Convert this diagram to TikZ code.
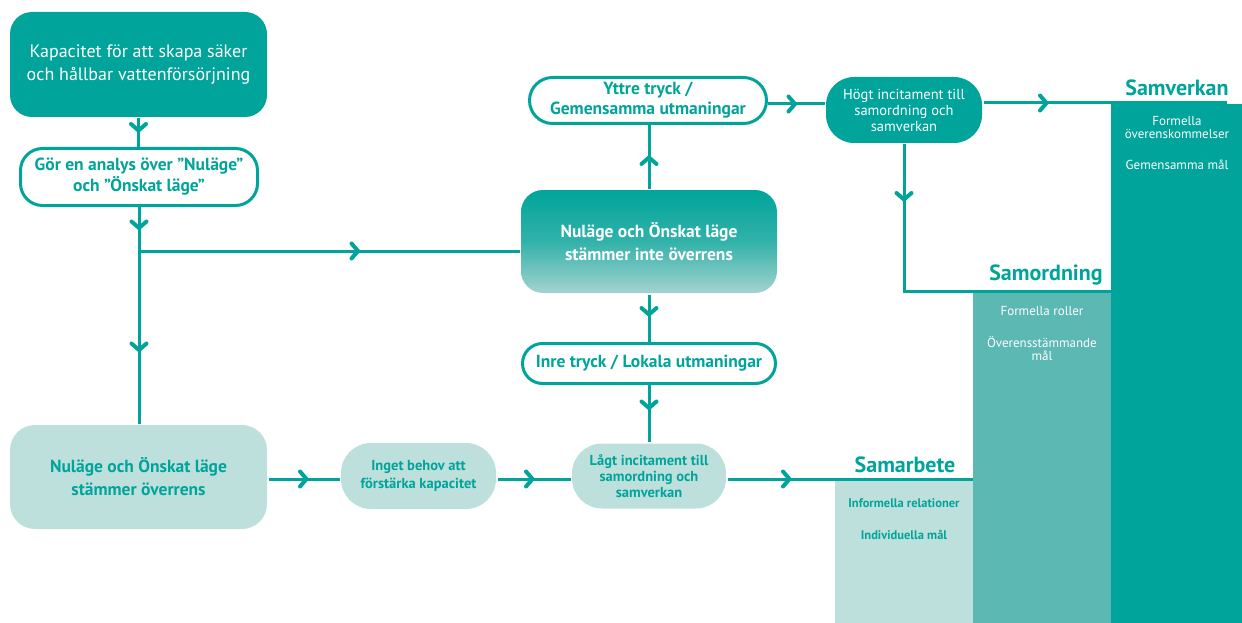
\documentclass[tikz,border=0pt]{standalone}
\usepackage{fontspec}
\setmainfont{PT Sans}
\usetikzlibrary{arrows.meta,decorations.markings,calc}
\definecolor{teal1}{HTML}{00A49A}
\definecolor{teal2}{HTML}{5CB8B2}
\definecolor{teal3}{HTML}{BEE0DD}
\definecolor{teal4}{HTML}{A5D3CF}
\tikzset{
  box/.style={rounded corners=#1, align=center, inner sep=0pt, line width=3pt},
  darkbox/.style={box=#1, fill=teal1, text=white},
  openbox/.style={box=#1, draw=teal1, fill=white, text=teal1},
  lightbox/.style={box=#1, fill=teal3, text=teal1},
  conn/.style={draw=teal1, line width=3pt},
  tipat/.style={postaction={decorate,decoration={markings,
      mark=at position #1pt with {\arrow{Straight Barb[length=6.5pt,width=15pt,line width=4pt,round]}}}}},
  heading/.style={text=teal1, font=\fontsize{22}{24}\selectfont\bfseries, inner sep=0pt},
  coltext/.style={align=center, inner sep=0pt, font=\fontsize{13}{13}\selectfont},
}
\begin{document}
\begin{tikzpicture}[x=1pt,y=-1pt]
\useasboundingbox (0,0) rectangle (1242,623);
% columns
\fill[teal3] (835,480) rectangle (973,623);
\fill[teal2] (973,292) rectangle (1111,623);
\fill[teal1] (1111,104) rectangle (1242,623);
\node[heading] (hsv) at (1177,88) {Samverkan};
\node[heading] (hso) at (1046,275) {Samordning};
\node[heading] (hsa) at (905,465) {Samarbete};
\node[coltext, text=white] (sv1) at (1177,127.5) {Formella\\överenskommelser};
\node[coltext, text=white] (sv2) at (1177,165) {Gemensamma mål};
\node[coltext, text=white] (so1) at (1042,311) {Formella roller};
\node[coltext, text=white] (so2) at (1042,348.5) {Överensstämmande\\mål};
\node[coltext, text=teal1, font=\fontsize{12.5}{13}\selectfont\bfseries] (sa1) at (904,503) {Informella relationer};
\node[coltext, text=teal1, font=\fontsize{12.5}{13}\selectfont\bfseries] (sa2) at (904,535) {Individuella mål};
% boxes
\node[darkbox=22, minimum width=257, minimum height=105, font=\fontsize{18}{23}\selectfont] (kap) at (138.5,64.5) {Kapacitet för att skapa säker\\och hållbar vattenförsörjning};
\node[openbox=22, minimum width=237, minimum height=57, font=\fontsize{17.5}{21}\selectfont\bfseries] (gor) at (139,177) {Gör en analys över ”Nuläge”\\och ”Önskat läge”};
\node[box=22, minimum width=256, minimum height=103, top color=teal1, bottom color=teal4, middle color=teal1!70!teal4, text=white, font=\fontsize{17.5}{23}\selectfont\bfseries] (inte) at (649,241.5) {Nuläge och Önskat läge\\stämmer inte överrens};
\node[openbox=23, minimum width=237, minimum height=46, font=\fontsize{17.5}{20}\selectfont\bfseries] (ytt) at (648,100.5) {Yttre tryck /\\Gemensamma utmaningar};
\node[darkbox=28, minimum width=156, minimum height=66, font=\fontsize{14.5}{16}\selectfont] (hog) at (904,110) {Högt incitament till\\samordning och\\samverkan};
\node[openbox=20, minimum width=253, minimum height=40, font=\fontsize{17.5}{20}\selectfont\bfseries] (inre) at (649,363.5) {Inre tryck / Lokala utmaningar};
\node[lightbox=30, minimum width=154, minimum height=65, font=\fontsize{14.5}{16}\selectfont\bfseries] (lag) at (649,476) {Lågt incitament till\\samordning och\\samverkan};
\node[lightbox=25, minimum width=257, minimum height=104, font=\fontsize{17.5}{23}\selectfont\bfseries] (ovr) at (138.5,477) {Nuläge och Önskat läge\\stämmer överrens};
\node[lightbox=30, minimum width=155, minimum height=66, font=\fontsize{14.5}{18}\selectfont\bfseries] (ing) at (418.5,476) {Inget behov att\\förstärka kapacitet};
% coordinates
\coordinate (br) at (139,251);
\coordinate (svend) at (1227,103);
\coordinate (soc) at (1111,291);
\coordinate (saend) at (973,479);
% connectors
\draw[conn, tipat=14] (kap.south) -- (kap.south |- gor.north);
\draw[conn, tipat=23, tipat=145] (gor.south) -- (gor.south |- ovr.north);
\draw[conn, tipat=221] (br) -- (br -| inte.west);
\draw[conn, tipat=33] (inte.north) -- (inte.north |- ytt.south);
\draw[conn, tipat=29] (ytt.east |- 0,104) -- (hog.west |- 0,104);
\draw[conn, tipat=65] (hog.east |- svend) -- (svend);
\draw[conn, tipat=57] (hog.south) -- (hog.south |- soc) -- (soc);
\draw[conn, tipat=22] (inte.south) -- (inte.south |- inre.north);
\draw[conn, tipat=25] (inre.south) -- (inre.south |- lag.north);
\draw[conn, tipat=40] (ovr.east |- saend) -- (ing.west |- saend);
\draw[conn, tipat=37] (ing.east |- saend) -- (lag.west |- saend);
\draw[conn, tipat=64] (lag.east |- saend) -- (saend);
\end{tikzpicture}
\end{document}
